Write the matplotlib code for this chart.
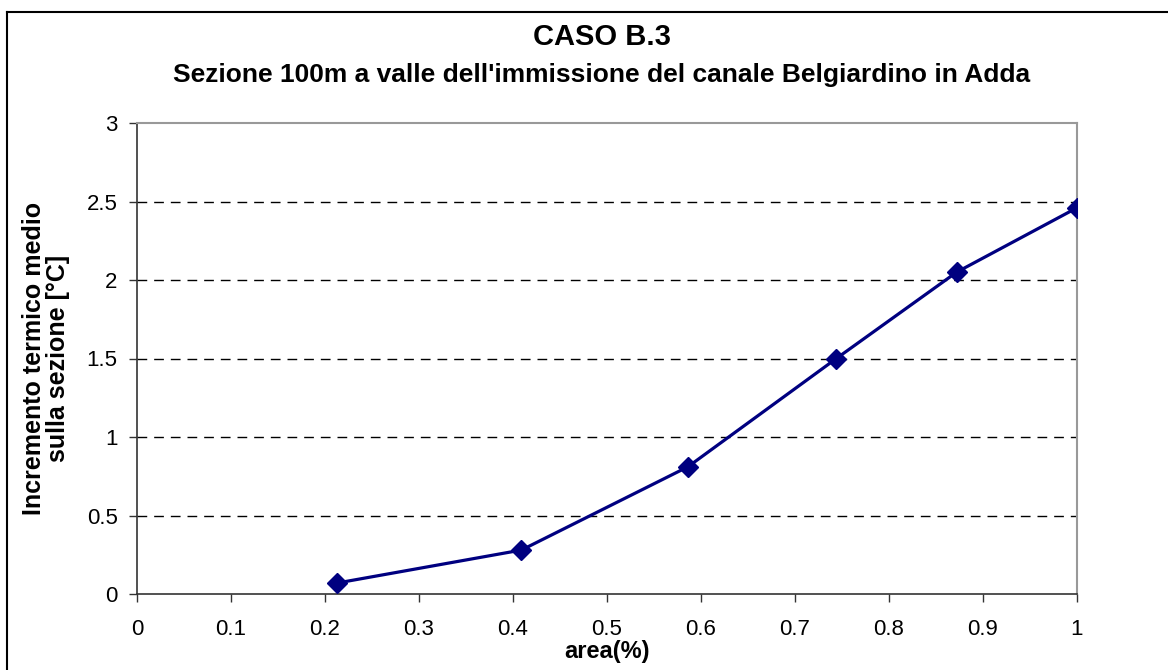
import matplotlib.pyplot as plt
from matplotlib.lines import Line2D

plt.rcParams['font.family'] = ['Liberation Sans', 'DejaVu Sans']

# data
area = [0.213, 0.409, 0.586, 0.744, 0.872, 1.0]
incremento = [0.07, 0.28, 0.81, 1.50, 2.05, 2.46]

x_ticks = [0, 0.1, 0.2, 0.3, 0.4, 0.5, 0.6, 0.7, 0.8, 0.9, 1]
x_labels = ['0', '0.1', '0.2', '0.3', '0.4', '0.5', '0.6', '0.7', '0.8', '0.9', '1']
y_ticks = [0, 0.5, 1, 1.5, 2, 2.5, 3]
y_labels = ['0', '0.5', '1', '1.5', '2', '2.5', '3']

W, H = 1168, 670
fig = plt.figure(figsize=(W / 100, H / 100), dpi=100)
ax = fig.add_axes([137 / W, 1 - 594 / H, (1077 - 137) / W, (594 - 123) / H])

ax.plot(area, incremento, color='#000080', lw=2.3, marker='D', ms=10,
        markerfacecolor='#000080', markeredgecolor='#000080', zorder=3)

ax.set_xlim(0, 1)
ax.set_ylim(0, 3)
ax.set_xticks(x_ticks)
ax.set_xticklabels(x_labels)
ax.set_yticks(y_ticks)
ax.set_yticklabels(y_labels)

# dashed horizontal gridlines (skip 0 and 3)
for v in y_ticks[1:-1]:
    ax.axhline(v, color='black', lw=1, dashes=(7, 5), zorder=1)

for s in ['left', 'bottom']:
    ax.spines[s].set_color('#333333')
    ax.spines[s].set_linewidth(1.2)
for s in ['top', 'right']:
    ax.spines[s].set_color('#999999')
    ax.spines[s].set_linewidth(1.5)

ax.tick_params(axis='both', direction='out', length=6, width=1, color='#333333', labelsize=16)
ax.tick_params(axis='x', pad=12)
ax.tick_params(axis='y', pad=8)

ax.set_xlabel('area(%)', fontsize=17, fontweight='bold', labelpad=0)
ax.set_ylabel('Incremento termico medio\nsulla sezione [°C]', fontsize=18,
              fontweight='bold', labelpad=12, linespacing=1.0)

fig.text(602 / W, 1 - 37 / H, 'CASO B.3', ha='center', va='center',
         fontsize=21, fontweight='bold')
fig.text(602 / W, 1 - 75 / H, "Sezione 100m a valle dell'immissione del canale Belgiardino in Adda",
         ha='center', va='center', fontsize=19, fontweight='bold')

# outer chart border (only top and left visible in the reference)
fig.add_artist(Line2D([7 / W, 7 / W], [0, 1 - 12 / H], color='black', lw=1.5, transform=fig.transFigure))
fig.add_artist(Line2D([7 / W, 1], [1 - 12 / H, 1 - 12 / H], color='black', lw=1.5, transform=fig.transFigure))

fig.savefig('out.png', dpi=100)
